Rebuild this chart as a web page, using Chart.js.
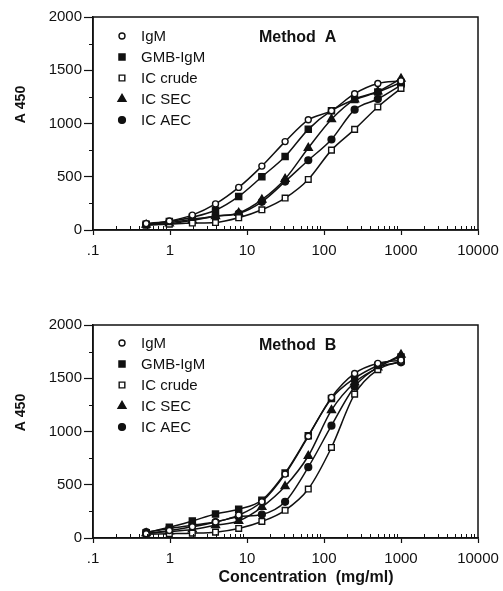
<!DOCTYPE html>
<html>
<head>
<meta charset="utf-8">
<script src="https://cdn.jsdelivr.net/npm/chart.js@4.4.0/dist/chart.umd.min.js"></script>
<style>
  html, body { margin: 0; padding: 0; background: #fff; }
  #wrap { position: relative; width: 503px; height: 591px; }
  .panel { position: absolute; left: 0; width: 503px; }
  #pa { top: 0; height: 270px; }
  #pb { top: 300px; height: 291px; }
</style>
</head>
<body>
<div id="wrap">
  <div class="panel" id="pa"><canvas id="chartA"></canvas></div>
  <div class="panel" id="pb"><canvas id="chartB"></canvas></div>
</div>
<script>
// concentrations (mg/ml), serial two-fold dilutions
const concentrations = [0.49, 0.98, 1.95, 3.9, 7.8, 15.6, 31.25, 62.5, 125, 250, 500, 1000];
const seriesNames = ['IgM', 'GMB-IgM', 'IC crude', 'IC SEC', 'IC AEC'];
const xTickValues = [0.1, 1, 10, 100, 1000, 10000];
const xTickLabels = ['.1', '1', '10', '100', '1000', '10000'];
const yTickValues = [0, 500, 1000, 1500, 2000];
const yTickLabels = ['0', '500', '1000', '1500', '2000'];

// Method A (A450)
const igmA   = [60, 85, 140, 245, 400, 600, 830, 1035, 1120, 1280, 1375, 1400];
const gmbA   = [55, 80, 120, 185, 315, 500, 690, 945, 1120, 1225, 1295, 1385];
const crudeA = [45, 55, 65, 70, 115, 190, 300, 475, 750, 945, 1155, 1330];
const secA   = [50, 60, 90, 130, 160, 285, 480, 770, 1040, 1225, 1300, 1420];
const aecA   = [55, 70, 100, 130, 155, 265, 455, 655, 850, 1130, 1230, 1360];

// Method B (A450)
const igmB   = [40, 70, 105, 150, 215, 340, 600, 955, 1320, 1545, 1640, 1670];
const gmbB   = [50, 100, 160, 225, 270, 355, 610, 960, 1310, 1500, 1620, 1700];
const crudeB = [35, 40, 45, 55, 90, 155, 260, 460, 850, 1350, 1580, 1660];
const secB   = [45, 60, 80, 120, 160, 290, 485, 770, 1200, 1460, 1600, 1720];
const aecB   = [55, 90, 120, 150, 200, 220, 340, 665, 1055, 1420, 1600, 1650];

// marker look for each series
const markerShapes = ['circle', 'rect', 'rect', 'triangle', 'circle'];
const markerRadius = [3, 4.3, 4, 4.6, 3.4];
const markerFill = ['#fff', '#111', '#fff', '#111', '#111'];

const INK = '#111';
const FONT = '"Liberation Sans", Arial, Helvetica, sans-serif';

function makeDatasets(values) {
  return seriesNames.map((name, i) => ({
    label: name,
    data: concentrations.map((c, j) => ({ x: c, y: values[i][j] })),
    borderColor: INK,
    borderWidth: 1.5,
    pointStyle: markerShapes[i],
    pointRadius: markerRadius[i],
    pointBackgroundColor: markerFill[i],
    pointBorderColor: INK,
    pointBorderWidth: 1.4,
    cubicInterpolationMode: 'monotone',
    fill: false
  }));
}

function drawMarker(ctx, i, x, y) {
  ctx.fillStyle = markerFill[i];
  ctx.strokeStyle = INK;
  ctx.lineWidth = 1.4;
  const opts = { pointStyle: markerShapes[i], radius: markerRadius[i], rotation: 0, borderWidth: 1.4 };
  if (Chart.helpers && Chart.helpers.drawPoint) {
    Chart.helpers.drawPoint(ctx, opts, x, y);
    return;
  }
  const r = markerRadius[i];
  ctx.beginPath();
  if (markerShapes[i] === 'circle') ctx.arc(x, y, r, 0, Math.PI * 2);
  else if (markerShapes[i] === 'rect') ctx.rect(x - r * 0.707, y - r * 0.707, r * 1.414, r * 1.414);
  else { ctx.moveTo(x, y - r); ctx.lineTo(x + r * 0.87, y + r * 0.5); ctx.lineTo(x - r * 0.87, y + r * 0.5); ctx.closePath(); }
  ctx.fill();
  ctx.stroke();
}

// frame, minor ticks, legend and panel texts
const decorPlugin = {
  id: 'decor',
  afterDraw(chart, args, opts) {
    const { ctx, chartArea: a, scales: { x, y } } = chart;
    ctx.save();
    ctx.strokeStyle = INK;
    ctx.lineWidth = 1.5;
    ctx.strokeRect(a.left, a.top, a.right - a.left, a.bottom - a.top);

    // log minor ticks, pointing into the plot
    ctx.lineWidth = 1;
    ctx.beginPath();
    for (let d = -1; d < 4; d++) {
      for (let m = 2; m < 10; m++) {
        const px = Math.round(x.getPixelForValue(m * Math.pow(10, d))) + 0.5;
        ctx.moveTo(px, a.bottom);
        ctx.lineTo(px, a.bottom - 4);
      }
    }
    // small y ticks between the labelled ones
    for (let v = 250; v < 2000; v += 500) {
      const py = Math.round(y.getPixelForValue(v)) + 0.5;
      ctx.moveTo(a.left, py);
      ctx.lineTo(a.left - 4, py);
    }
    ctx.stroke();

    // legend inside the plot
    ctx.font = '15px ' + FONT;
    ctx.textBaseline = 'middle';
    seriesNames.forEach((name, i) => {
      const ly = a.top + opts.legendTop + i * 21;
      drawMarker(ctx, i, a.left + 29, ly);
      ctx.fillStyle = INK;
      ctx.textAlign = 'left';
      ctx.fillText(name, a.left + 48, ly + 1);
    });

    // panel title
    ctx.font = 'bold 16px ' + FONT;
    ctx.fillStyle = INK;
    ctx.fillText(opts.title, a.left + 166, a.top + 21);

    // y title
    ctx.save();
    ctx.translate(21, (a.top + a.bottom) / 2 - 19);
    ctx.rotate(-Math.PI / 2);
    ctx.textAlign = 'center';
    ctx.font = 'bold 14px ' + FONT;
    ctx.fillText('A 450', 0, 0);
    ctx.restore();

    // x title
    if (opts.xTitle) {
      ctx.textAlign = 'center';
      ctx.font = 'bold 16px ' + FONT;
      ctx.fillText(opts.xTitle, 306, opts.xTitleY);
    }
    ctx.restore();
  }
};

function makeChart(id, values, title, padTop, xHeight, legendTop, xTitle, xTitleY) {
  return new Chart(document.getElementById(id), {
    type: 'line',
    data: { datasets: makeDatasets(values) },
    options: {
      responsive: true,
      maintainAspectRatio: false,
      animation: false,
      events: [],
      layout: { padding: { top: padTop, right: 25, left: 0, bottom: 0 } },
      plugins: {
        legend: { display: false },
        tooltip: { enabled: false },
        decor: { title: title, legendTop: legendTop, xTitle: xTitle, xTitleY: xTitleY }
      },
      scales: {
        x: {
          type: 'logarithmic',
          min: 0.1,
          max: 10000,
          afterBuildTicks: s => { s.ticks = xTickValues.map(v => ({ value: v, major: true })); },
          afterFit: s => { s.height = xHeight; s.paddingLeft = 0; s.paddingRight = 0; },
          ticks: {
            autoSkip: false,
            maxRotation: 0,
            color: INK,
            padding: 7,
            font: { family: FONT, size: 15 },
            callback: (v, i) => xTickLabels[i]
          },
          grid: { drawOnChartArea: false, drawTicks: true, tickLength: 5, color: INK, tickColor: INK, tickWidth: 1.2 },
          border: { display: true, color: INK, width: 1.5 }
        },
        y: {
          min: 0,
          max: 2000,
          afterBuildTicks: s => { s.ticks = yTickValues.map(v => ({ value: v })); },
          afterFit: s => { s.width = 93; },
          ticks: {
            color: INK,
            padding: 2,
            font: { family: FONT, size: 15 },
            callback: (v, i) => yTickLabels[i]
          },
          grid: { drawOnChartArea: false, drawTicks: true, tickLength: 9, color: INK, tickColor: INK, tickWidth: 1.2 },
          border: { display: true, color: INK, width: 1.5 }
        }
      }
    },
    plugins: [decorPlugin]
  });
}

makeChart('chartA', [igmA, gmbA, crudeA, secA, aecA], 'Method  A', 17, 40, 19, null, 0);
makeChart('chartB', [igmB, gmbB, crudeB, secB, aecB], 'Method  B', 25, 53, 18, 'Concentration  (mg/ml)', 278);
</script>
</body>
</html>
